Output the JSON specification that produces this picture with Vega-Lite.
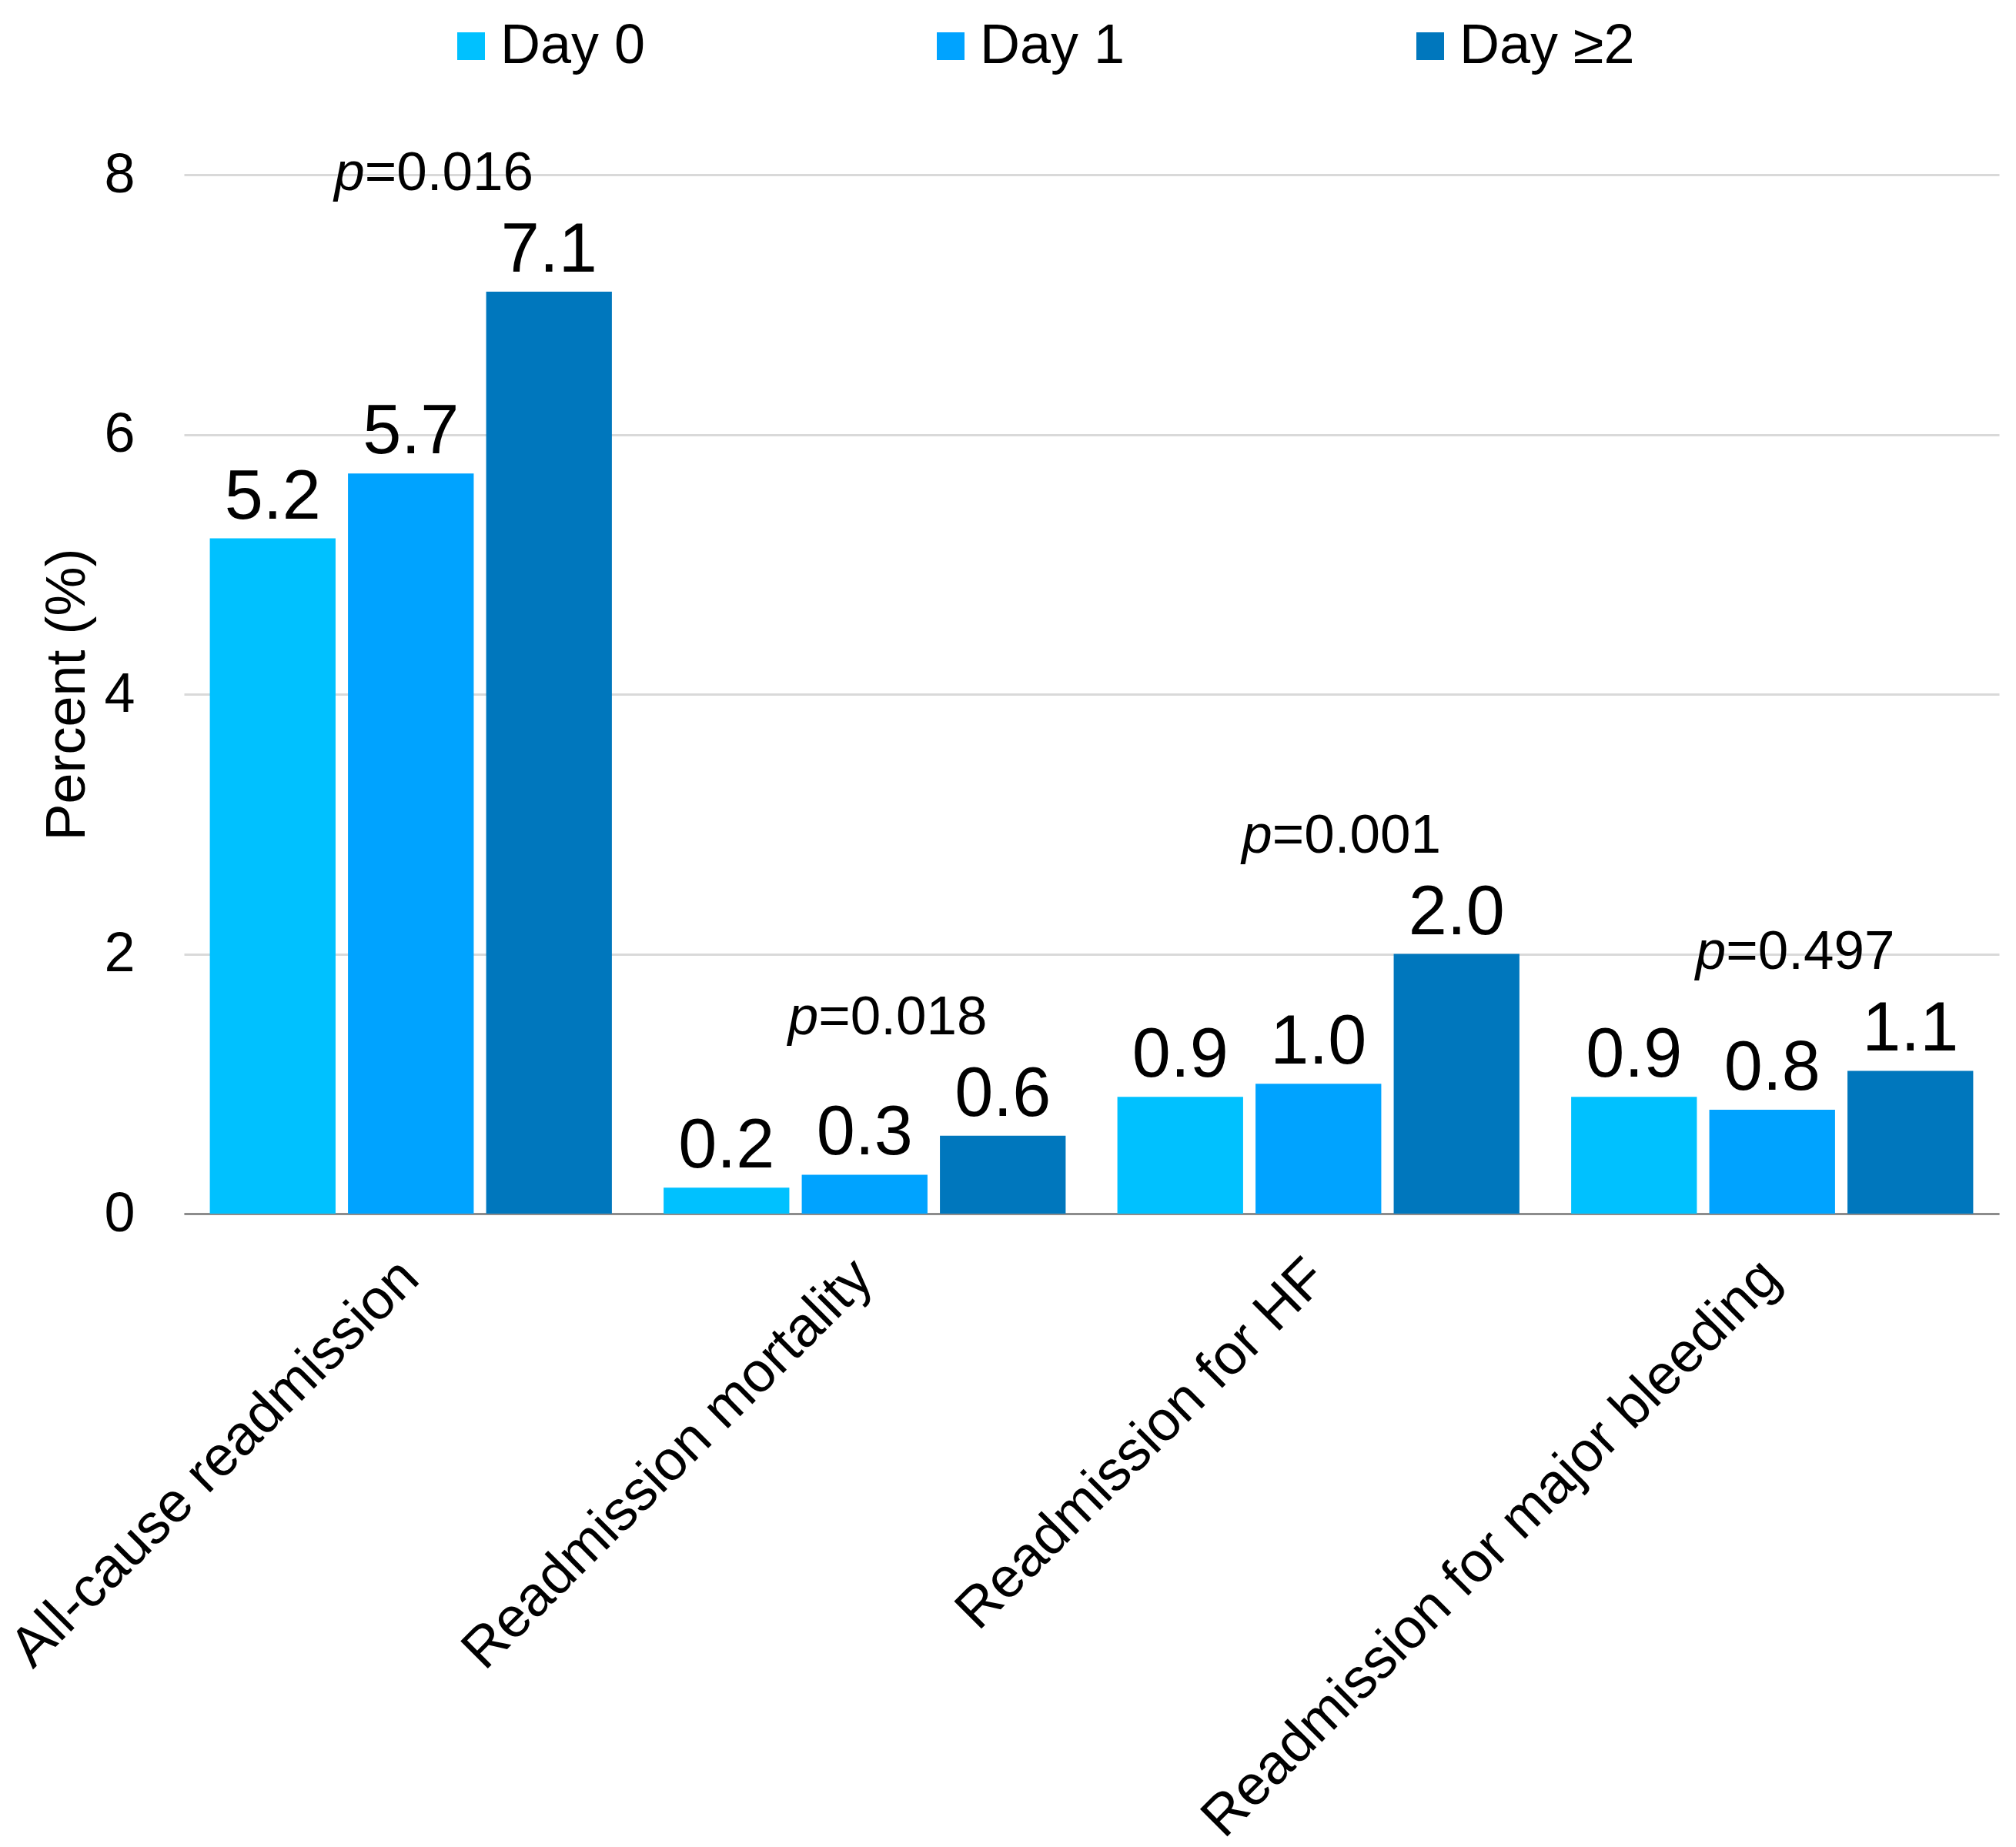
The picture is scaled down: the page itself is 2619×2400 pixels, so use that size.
{
  "$schema": "https://vega.github.io/schema/vega-lite/v6.json",
  "width": 2358,
  "height": 1350,
  "autosize": {"type": "none"},
  "padding": {"left": 239, "top": 227, "right": 22, "bottom": 823},
  "background": "white",
  "config": {
    "font": "Liberation Sans",
    "view": {"stroke": null},
    "axis": {"labelFont": "Liberation Sans", "titleFont": "Liberation Sans", "labelColor": "black", "titleColor": "black"},
    "legend": {"labelFont": "Liberation Sans"}
  },
  "datasets": {
    "rates": [
      {"outcome": "All-cause readmission", "group": "Day 0", "pct": 5.2},
      {"outcome": "All-cause readmission", "group": "Day 1", "pct": 5.7},
      {"outcome": "All-cause readmission", "group": "Day ≥2", "pct": 7.1},
      {"outcome": "Readmission mortality", "group": "Day 0", "pct": 0.2},
      {"outcome": "Readmission mortality", "group": "Day 1", "pct": 0.3},
      {"outcome": "Readmission mortality", "group": "Day ≥2", "pct": 0.6},
      {"outcome": "Readmission for HF", "group": "Day 0", "pct": 0.9},
      {"outcome": "Readmission for HF", "group": "Day 1", "pct": 1.0},
      {"outcome": "Readmission for HF", "group": "Day ≥2", "pct": 2.0},
      {"outcome": "Readmission for major bleeding", "group": "Day 0", "pct": 0.9},
      {"outcome": "Readmission for major bleeding", "group": "Day 1", "pct": 0.8},
      {"outcome": "Readmission for major bleeding", "group": "Day ≥2", "pct": 1.1}
    ],
    "pvalues": [
      {"outcome": "All-cause readmission", "p": 0.016, "top": 7.1},
      {"outcome": "Readmission mortality", "p": 0.018, "top": 0.6},
      {"outcome": "Readmission for HF", "p": 0.001, "top": 2.0},
      {"outcome": "Readmission for major bleeding", "p": 0.497, "top": 1.1}
    ]
  },
  "encoding": {
    "x": {
      "field": "outcome",
      "type": "nominal",
      "sort": null,
      "scale": {"domain": ["All-cause readmission", "Readmission mortality", "Readmission for HF", "Readmission for major bleeding"], "paddingInner": 0.114, "paddingOuter": 0.057},
      "axis": {
        "title": null,
        "labelAngle": -45,
        "labelFontSize": 73,
        "labelPadding": 46,
        "labelOffset": -27,
        "labelLimit": 2000,
        "ticks": false,
        "domainColor": "#8c8c8c",
        "domainWidth": 3,
        "grid": false
      }
    }
  },
  "layer": [
    {
      "data": {"name": "rates"},
      "mark": {"type": "bar"},
      "encoding": {
        "xOffset": {"field": "group", "type": "nominal", "sort": null, "scale": {"paddingInner": 0.09, "paddingOuter": 0}},
        "y": {
          "field": "pct",
          "type": "quantitative",
          "scale": {"domain": [0, 8]},
          "axis": {
            "title": "Percent (%)",
            "titleFontSize": 72,
            "titleFontWeight": "normal",
            "titlePadding": 10,
            "labelFontSize": 72,
            "labelPadding": 64,
            "format": "d",
            "values": [0, 2, 4, 6, 8],
            "ticks": false,
            "domain": false,
            "gridColor": "#d9d9d9",
            "gridWidth": 3
          }
        },
        "color": {
          "field": "group",
          "type": "nominal",
          "sort": null,
          "scale": {"domain": ["Day 0", "Day 1", "Day ≥2"], "range": ["#00c1ff", "#00a3ff", "#0077bd"]},
          "legend": {
            "title": null,
            "orient": "none",
            "direction": "horizontal",
            "legendX": 337,
            "legendY": -203,
            "symbolType": "square",
            "symbolSize": 1296,
            "symbolStrokeWidth": 0,
            "labelFontSize": 72,
            "labelOffset": 2,
            "labelLimit": 1000,
            "columnPadding": 360,
            "labelColor": "black"
          }
        }
      }
    },
    {
      "data": {"name": "rates"},
      "mark": {"type": "text", "fontSize": 90, "baseline": "alphabetic", "dy": -26, "color": "black"},
      "encoding": {
        "xOffset": {"field": "group", "type": "nominal", "sort": null, "scale": {"paddingInner": 0.09, "paddingOuter": 0}},
        "y": {"field": "pct", "type": "quantitative"},
        "text": {"field": "pct", "type": "quantitative", "format": ".1f"}
      }
    },
    {
      "data": {"name": "pvalues"},
      "mark": {"type": "text", "fontSize": 71, "fontStyle": "italic", "align": "right", "baseline": "alphabetic", "dx": -60, "dy": -132, "color": "black"},
      "encoding": {
        "y": {"field": "top", "type": "quantitative"},
        "text": {"value": "p"}
      }
    },
    {
      "data": {"name": "pvalues"},
      "transform": [{"calculate": "'=' + format(datum.p, '.3f')", "as": "plabel"}],
      "mark": {"type": "text", "fontSize": 71, "align": "left", "baseline": "alphabetic", "dx": -60, "dy": -132, "color": "black"},
      "encoding": {
        "y": {"field": "top", "type": "quantitative"},
        "text": {"field": "plabel", "type": "nominal"}
      }
    }
  ]
}
